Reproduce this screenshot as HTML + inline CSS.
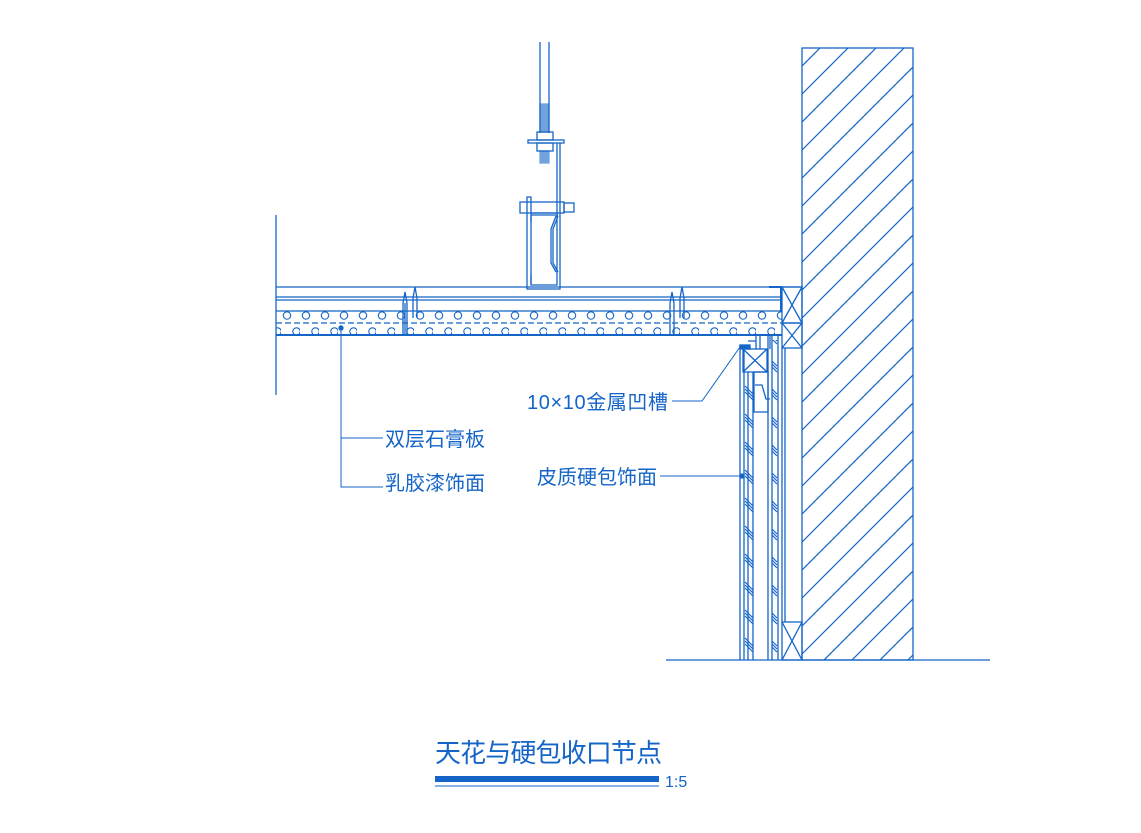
<!DOCTYPE html>
<html><head><meta charset="utf-8"><style>html,body{margin:0;padding:0;background:#fff}svg{display:block}</style></head>
<body>
<svg width="1141" height="833" viewBox="0 0 1141 833" xmlns="http://www.w3.org/2000/svg">
<defs>
<pattern id="hatch" width="28" height="28" patternUnits="userSpaceOnUse">
<line x1="0" y1="28" x2="28" y2="0" stroke="#1565c8" stroke-width="1.2"/>
<line x1="-5" y1="5" x2="5" y2="-5" stroke="#1565c8" stroke-width="1.2"/>
<line x1="23" y1="33" x2="33" y2="23" stroke="#1565c8" stroke-width="1.2"/>
</pattern>
<pattern id="dots" width="19" height="24" patternUnits="userSpaceOnUse" x="281" y="311">
<circle cx="6" cy="4.5" r="3.7" fill="none" stroke="#1565c8" stroke-width="1.1"/>
<circle cx="15.5" cy="20.5" r="3.7" fill="none" stroke="#1565c8" stroke-width="1.1"/>
</pattern>
<pattern id="slash" width="12" height="28" patternUnits="userSpaceOnUse" y="350">
<path d="M1,8 l8,8 M1,11 l8,8 M1,14 l8,8" stroke="#1565c8" stroke-width="1.2"/>
</pattern>
</defs>
<g stroke="#1565c8" stroke-width="1.3" fill="none">
<rect x="802" y="48" width="111" height="612" fill="url(#hatch)"/>
<line x1="666" y1="660" x2="990" y2="660"/>
<line x1="276" y1="215" x2="276" y2="395"/>
<line x1="276" y1="287" x2="802" y2="287"/>
<line x1="276" y1="297" x2="780" y2="297"/>
<line x1="276" y1="300" x2="780" y2="300"/>
<line x1="276" y1="311" x2="782" y2="311"/>
<rect x="276" y="311" width="506" height="24" fill="url(#dots)" stroke="none"/>
<line x1="276" y1="323" x2="782" y2="323" stroke-dasharray="6 3"/>
<line x1="276" y1="335" x2="782" y2="335" stroke-width="2"/>
<path d="M769,287 H781 V311" stroke-width="2"/>
<rect x="782" y="287" width="20" height="36"/><path d="M782,287 L802,323 M802,287 L782,323"/>
<rect x="782" y="323" width="20" height="25"/><path d="M782,323 L802,348 M802,323 L782,348"/>
<rect x="782" y="622" width="20" height="38"/><path d="M782,622 L802,660 M802,622 L782,660"/>
<line x1="785" y1="348" x2="785" y2="622"/><line x1="782" y1="348" x2="782" y2="622"/>
<line x1="540" y1="42" x2="540" y2="133"/><line x1="549" y1="42" x2="549" y2="133"/>
<rect x="540" y="104" width="9" height="28" fill="#1565c8" opacity="0.6"/>
<rect x="537" y="132" width="16" height="8"/>
<rect x="528" y="140" width="36" height="3"/>
<rect x="537" y="143" width="16" height="8"/>
<rect x="540" y="151" width="9" height="12" fill="#1565c8" opacity="0.6"/>
<path d="M560,143 V289 H527 V197 H531 V285 H557 V143"/>
<rect x="520" y="202" width="44" height="11"/><rect x="564" y="203" width="10" height="9"/>
<path d="M531,213 H558 M531,215 H558 M531,215 V222 M531,275 V284 M558,216 L553,229 V263 L558,272 M556,216 L551,229 V263 L556,272"/>
<path d="M403,335 V303 L405,292 L407,303 V335 M405,303 V335" />
<path d="M413,318 V298 L415,287 L417,298 V318"/>
<path d="M670,335 V303 L672,292 L674,303 V335"/>
<path d="M680,318 V298 L682,287 L684,298 V318"/>
<line x1="740" y1="345" x2="740" y2="660"/>
<line x1="744" y1="350" x2="744" y2="660"/>
<line x1="748" y1="372" x2="748" y2="660"/>
<line x1="753" y1="372" x2="753" y2="660"/>
<rect x="744" y="372" width="9" height="288" fill="url(#slash)" stroke="none"/>
<rect x="743" y="349" width="24" height="23"/><path d="M743,349 L767,372 M767,349 L743,372"/>
<rect x="740" y="345" width="10" height="4" fill="#1565c8"/>
<path d="M748,341 H756 V335 M756,335 V349 M760,335 V349 M753,335 L770,335 V349"/>
<rect x="754" y="372" width="14" height="40"/>
<path d="M755,385 L762,385 L766,399 H770"/>
<line x1="768" y1="335" x2="768" y2="660"/>
<line x1="772" y1="335" x2="772" y2="660"/>
<line x1="778" y1="335" x2="778" y2="660"/>
<rect x="772" y="340" width="6" height="320" fill="url(#slash)" stroke="none"/>
<path d="M672,401 H702 L740,347" stroke-width="1"/>
<path d="M660,476 H742" stroke-width="1"/><circle cx="742" cy="476" r="2" fill="#1565c8"/>
<path d="M341,325 V487 H383 M341,438 H383" stroke-width="1"/><circle cx="341" cy="328" r="2" fill="#1565c8"/>
<rect x="435" y="776" width="224" height="6" fill="#1565c8" stroke="none"/>
<line x1="435" y1="786" x2="659" y2="786" stroke-width="1"/>
</g>
<g fill="#1565c8" font-family="'Liberation Sans','Noto Sans CJK SC',sans-serif">
<text x="527" y="409" font-size="20" textLength="141">10×10金属凹槽</text>
<text x="537" y="484" font-size="20">皮质硬包饰面</text>
<text x="385" y="446" font-size="20">双层石膏板</text>
<text x="385" y="490" font-size="20">乳胶漆饰面</text>
<text x="435" y="762" font-size="26" textLength="227">天花与硬包收口节点</text>
<text x="665" y="787" font-size="16">1:5</text>
</g>
</svg>
</body></html>
